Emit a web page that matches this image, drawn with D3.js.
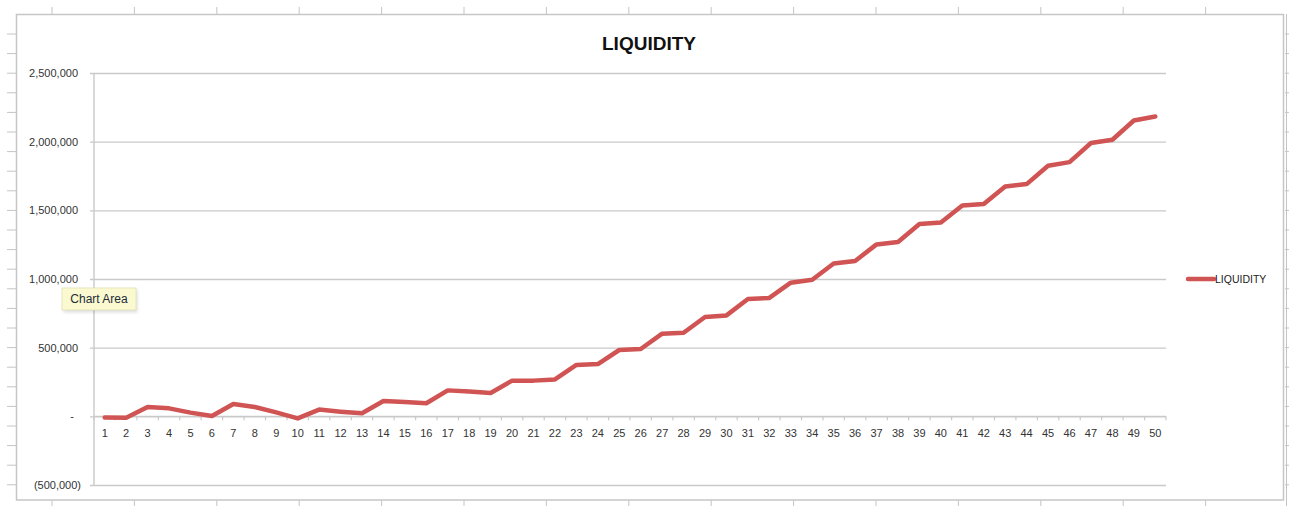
<!DOCTYPE html>
<html>
<head>
<meta charset="utf-8">
<script src="https://cdn.jsdelivr.net/npm/d3@7"></script>
<style>
  html, body { margin: 0; padding: 0; background: #ffffff; }
  svg { display: block; }
  text { font-family: "Liberation Sans", Arial, sans-serif; }
</style>
</head>
<body>
<div id="chart"></div>
<script>
// Period numbers along the category axis
const periods = [1, 2, 3, 4, 5, 6, 7, 8, 9, 10,
  11, 12, 13, 14, 15, 16, 17, 18, 19, 20,
  21, 22, 23, 24, 25, 26, 27, 28, 29, 30,
  31, 32, 33, 34, 35, 36, 37, 38, 39, 40,
  41, 42, 43, 44, 45, 46, 47, 48, 49, 50];

// Liquidity balance per period
const liquidity = [-8000, -10000, 68000, 58000, 27000, 2000, 90000, 68000, 29000, -15000,
  49000, 34000, 22000, 112000, 105000, 95000, 189000, 180000, 170000, 260000,
  260000, 269000, 374000, 381000, 483000, 490000, 602000, 609000, 723000, 735000,
  854000, 862000, 973000, 995000, 1113000, 1131000, 1252000, 1269000, 1400000, 1412000,
  1536000, 1546000, 1674000, 1691000, 1825000, 1851000, 1990000, 2014000, 2154000, 2183000];

// Value axis ticks
const yTicks = [-500000, 0, 500000, 1000000, 1500000, 2000000, 2500000];

const seriesName = "LIQUIDITY";
const chartTitle = "LIQUIDITY";

const W = 1289, H = 506;
const plot = { left: 94, right: 1166, top: 73, bottom: 485 };
const lineColor = "#d05453";
const gridColor = "#c9c9c9";

const svg = d3.select("#chart").append("svg")
  .attr("width", W).attr("height", H);

// Ruler marks around the sheet edge
const ruler = svg.append("g").attr("stroke", "#c4c4c4").attr("stroke-width", 1);
d3.range(52, 1210, 82.4).forEach(x => {
  ruler.append("line").attr("x1", x).attr("x2", x).attr("y1", 7).attr("y2", 14);
  ruler.append("line").attr("x1", x).attr("x2", x).attr("y1", 500).attr("y2", 506);
});
d3.range(34, 500, 19.6).forEach(y => {
  ruler.append("line").attr("x1", 7).attr("x2", 16).attr("y1", y).attr("y2", y);
  ruler.append("line").attr("x1", 1285).attr("x2", 1289).attr("y1", y).attr("y2", y);
});
ruler.append("line").attr("x1", 1286.5).attr("x2", 1286.5).attr("y1", 14).attr("y2", 506);

// Chart area frame
svg.append("rect")
  .attr("x", 16.5).attr("y", 14.5).attr("width", 1267).attr("height", 485.5)
  .attr("fill", "#ffffff").attr("stroke", "#c6c6c6").attr("stroke-width", 1.5);

// Scales
const x = d3.scaleBand().domain(periods).range([plot.left, plot.right]);
const y = d3.scaleLinear().domain([-500000, 2500000]).range([plot.bottom, plot.top]);

// Horizontal gridlines with small outer ticks
const yAxis = d3.axisLeft(y).tickValues(yTicks)
  .tickSize(plot.right - plot.left + 4)
  .tickFormat(d => d > 0 ? d3.format(",")(d) : d < 0 ? "(" + d3.format(",")(-d) + ")" : "-");
const gy = svg.append("g")
  .attr("transform", `translate(${plot.right},0)`)
  .call(yAxis);
gy.select(".domain").remove();
gy.selectAll(".tick line").attr("stroke", gridColor).attr("stroke-width", 1.4);
gy.selectAll(".tick text")
  .attr("fill", "#333")
  .attr("font-size", 11)
  .attr("x", d => (d > 0 ? 78 : d < 0 ? 81 : 74) - plot.right);

// Vertical value axis line
svg.append("line")
  .attr("x1", plot.left).attr("x2", plot.left)
  .attr("y1", plot.top).attr("y2", plot.bottom)
  .attr("stroke", gridColor).attr("stroke-width", 1.4);

// Category axis on the zero line
const boundaries = periods.map(p => x(p)).concat([plot.right]);
const gx = svg.append("g");
gx.append("line")
  .attr("x1", plot.left).attr("x2", plot.right)
  .attr("y1", y(0)).attr("y2", y(0))
  .attr("stroke", gridColor).attr("stroke-width", 1.4);
gx.selectAll("line.tk").data(boundaries).join("line")
  .attr("class", "tk")
  .attr("x1", d => d).attr("x2", d => d)
  .attr("y1", y(0)).attr("y2", y(0) + 4)
  .attr("stroke", gridColor).attr("stroke-width", 1.2);
gx.selectAll("text").data(periods).join("text")
  .attr("x", d => x(d) + x.bandwidth() / 2)
  .attr("y", y(0) + 21)
  .attr("text-anchor", "middle")
  .attr("font-size", 11)
  .attr("fill", "#333")
  .text(d => d);

// Liquidity line
const line = d3.line()
  .x((d, i) => x(periods[i]) + x.bandwidth() / 2)
  .y(d => y(d));
svg.append("path")
  .datum(liquidity)
  .attr("d", line)
  .attr("fill", "none")
  .attr("stroke", lineColor)
  .attr("stroke-width", 4.5)
  .attr("stroke-linejoin", "round")
  .attr("stroke-linecap", "round");

// Title
svg.append("text")
  .attr("x", 649).attr("y", 50)
  .attr("text-anchor", "middle")
  .attr("font-size", 19)
  .attr("font-weight", "bold")
  .attr("fill", "#111")
  .text(chartTitle);

// Legend
const legend = svg.append("g");
legend.append("line")
  .attr("x1", 1188).attr("x2", 1214).attr("y1", 279).attr("y2", 279)
  .attr("stroke", lineColor).attr("stroke-width", 4.5).attr("stroke-linecap", "round");
legend.append("text")
  .attr("x", 1215).attr("y", 283)
  .attr("font-size", 10.5)
  .attr("fill", "#222")
  .text(seriesName);

// Hover tip over the chart area
const tip = svg.append("g").attr("transform", "translate(62,288)");
tip.append("rect")
  .attr("x", 1.5).attr("y", 1.5).attr("width", 74).attr("height", 23)
  .attr("fill", "#000").attr("opacity", 0.12)
  .style("filter", "blur(1.5px)");
tip.append("rect")
  .attr("x", 0).attr("y", 0).attr("width", 74).attr("height", 22)
  .attr("fill", "#fbf9cf").attr("stroke", "#e3e0b8").attr("stroke-width", 0.8);
tip.append("text")
  .attr("x", 37).attr("y", 15)
  .attr("text-anchor", "middle")
  .attr("font-size", 12)
  .attr("fill", "#1d2b3a")
  .text("Chart Area");
</script>
</body>
</html>
